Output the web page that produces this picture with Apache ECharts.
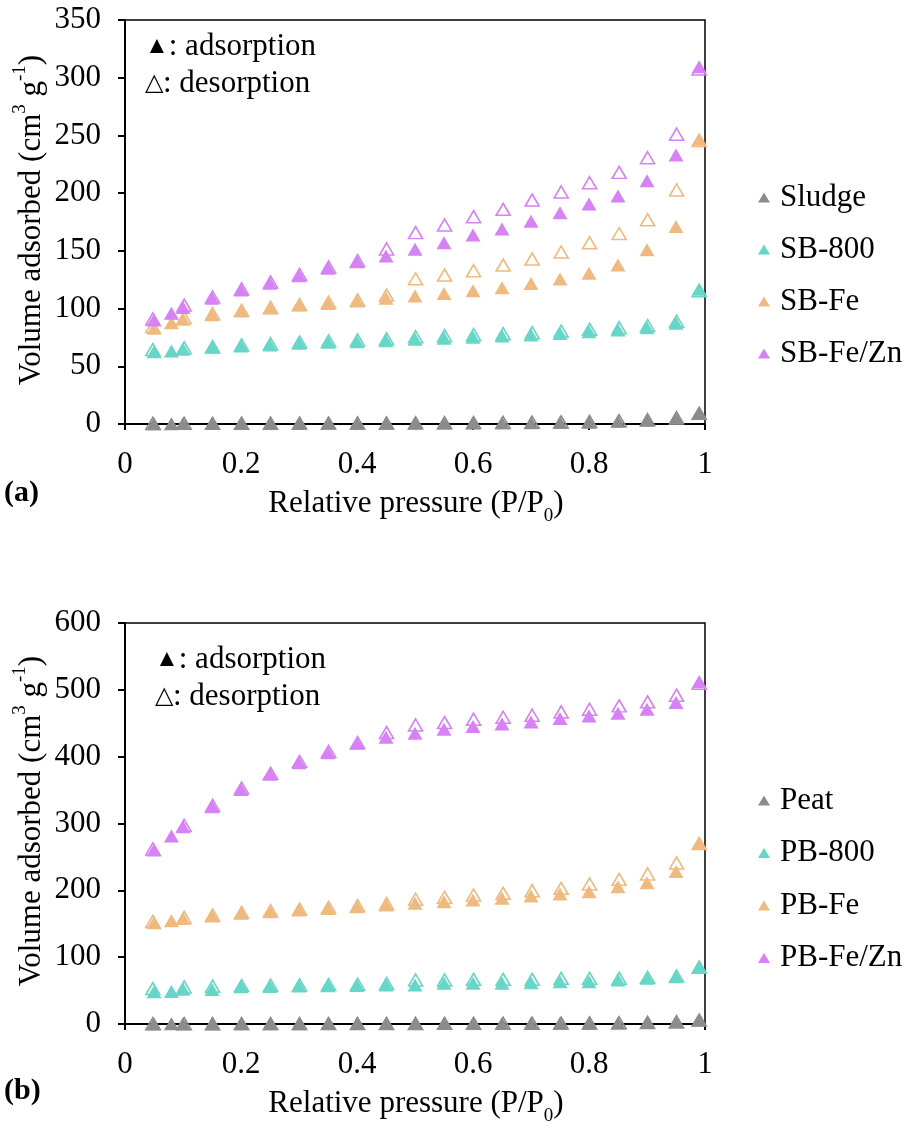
<!DOCTYPE html>
<html>
<head>
<meta charset="utf-8">
<title>N2 adsorption–desorption isotherms</title>
<script src="https://cdn.jsdelivr.net/npm/echarts@6/dist/echarts.min.js"></script>
<style>
  html, body { margin: 0; padding: 0; background: #fff; }
  #chart { width: 908px; height: 1129px; }
</style>
</head>
<body>
<div id="chart"></div>
<script>
// Relative pressure (P/P0) of the measured points
const pAds = [0.05, 0.08, 0.1, 0.15, 0.2, 0.25, 0.3, 0.35, 0.4, 0.45, 0.5, 0.55, 0.6, 0.65, 0.7, 0.75, 0.8, 0.85, 0.9, 0.95, 0.99];
const pDes = [0.048, 0.102, 0.151, 0.201, 0.251, 0.301, 0.351, 0.401, 0.451, 0.501, 0.551, 0.601, 0.652, 0.702, 0.752, 0.801, 0.852, 0.901, 0.951, 0.99];

// Panel (a): sludge-derived samples, volume adsorbed (cm3 g-1)
const namesA = ['Sludge', 'SB-800', 'SB-Fe', 'SB-Fe/Zn'];
const sludgeAds = [0.3, 0.3, 0.4, 0.4, 0.5, 0.5, 0.5, 0.6, 0.6, 0.7, 0.7, 0.8, 0.9, 1.0, 1.1, 1.3, 1.6, 2.3, 3.3, 5.0, 9.6];
const sludgeDes = [0.5, 0.6, 0.6, 0.7, 0.7, 0.8, 0.8, 0.9, 0.9, 1.0, 1.1, 1.2, 1.3, 1.5, 1.8, 2.2, 2.8, 3.7, 5.4, 9.2];
const sb800Ads = [62.7, 63.2, 64.7, 66.4, 67.6, 68.4, 69.9, 70.8, 71.3, 72.2, 73.4, 74.2, 75.1, 76.2, 77.1, 78.5, 80.0, 81.4, 83.4, 87.2, 116.7];
const sb800Des = [64.5, 66.0, 67.0, 68.5, 69.5, 71.0, 72.0, 72.8, 73.8, 75.6, 76.5, 77.4, 78.2, 79.1, 80.5, 82.0, 83.4, 85.3, 89.0, 115.5];
const sbFeAds = [83.0, 87.8, 90.7, 94.7, 98.0, 100.5, 103.0, 104.5, 106.5, 108.9, 110.9, 113.0, 115.5, 118.0, 121.8, 125.6, 130.5, 137.7, 151.0, 171.0, 246.6];
const sbFeDes = [84.5, 92.0, 95.5, 98.5, 101.0, 103.5, 105.5, 107.5, 111.7, 125.8, 129.0, 132.8, 137.7, 143.0, 149.0, 157.0, 165.0, 177.0, 202.7, 245.5];
const sbFeZnAds = [90.0, 96.0, 101.0, 109.0, 116.0, 122.0, 128.5, 135.0, 140.6, 145.5, 151.5, 157.0, 163.7, 169.0, 175.6, 183.0, 190.6, 197.5, 210.8, 233.0, 309.6];
const sbFeZnDes = [91.0, 103.0, 110.0, 117.0, 123.0, 129.5, 136.0, 141.5, 151.6, 165.8, 172.4, 179.6, 186.0, 194.0, 201.0, 209.0, 218.0, 230.7, 251.0, 307.5];

// Panel (b): peat-derived samples, volume adsorbed (cm3 g-1)
const namesB = ['Peat', 'PB-800', 'PB-Fe', 'PB-Fe/Zn'];
const peatAds = [0.2, 0.3, 0.3, 0.4, 0.4, 0.5, 0.5, 0.6, 0.6, 0.7, 0.7, 0.8, 0.8, 0.9, 1.0, 1.1, 1.3, 1.6, 2.1, 3.0, 6.0];
const peatDes = [0.4, 0.5, 0.5, 0.6, 0.6, 0.7, 0.7, 0.8, 0.8, 0.9, 1.0, 1.0, 1.1, 1.2, 1.4, 1.6, 1.9, 2.4, 3.4, 5.8];
const pb800Ads = [48.4, 48.5, 52.0, 51.6, 55.9, 56.2, 56.7, 57.2, 57.7, 58.2, 58.4, 60.9, 60.9, 60.9, 61.9, 63.4, 63.4, 65.8, 68.3, 70.8, 85.8];
const pb800Des = [53.0, 55.5, 56.5, 57.5, 58.0, 58.5, 59.0, 59.5, 60.5, 65.8, 65.8, 66.8, 66.8, 66.8, 68.3, 68.3, 68.3, 69.8, 71.8, 85.0];
const pbFeAds = [151.6, 154.6, 158.0, 161.6, 165.6, 168.0, 170.6, 173.0, 175.5, 178.0, 180.6, 183.0, 185.5, 188.0, 191.5, 194.5, 198.0, 205.5, 211.5, 228.0, 271.0];
const pbFeDes = [153.5, 159.5, 163.0, 167.0, 169.5, 172.0, 174.5, 177.0, 180.0, 186.6, 189.6, 193.0, 195.5, 199.5, 203.0, 209.5, 216.5, 224.5, 241.0, 270.0];
const pbFeZnAds = [260.4, 281.3, 295.0, 325.0, 351.0, 373.6, 391.0, 406.0, 420.0, 429.0, 435.0, 441.0, 445.0, 449.0, 452.0, 457.0, 461.0, 465.0, 471.0, 481.0, 512.0];
const pbFeZnDes = [262.0, 297.0, 327.0, 353.0, 375.0, 393.0, 408.0, 421.0, 436.0, 447.4, 451.0, 456.0, 459.0, 462.0, 467.0, 471.0, 476.0, 482.0, 492.0, 510.0];

// Axis ticks
const xTicks = { min: 0, max: 1, interval: 0.2 };
const yTicksA = { min: 0, max: 350, interval: 50 };
const yTicksB = { min: 0, max: 600, interval: 100 };

const colors = ['#8c8c8c', '#66d6c6', '#f0b97f', '#d681f6'];
const FONT = 'Liberation Serif';
const FS = 31;

const zip = (xs, ys) => ys.map((y, i) => [xs[i], y]);

function adsSeries(name, ys, color, idx) {
  return {
    type: 'scatter', name: name, xAxisIndex: idx, yAxisIndex: idx,
    data: zip(pAds, ys), symbol: 'triangle', symbolSize: [15, 13],
    itemStyle: { color: color, opacity: 1 }, z: 3, silent: true
  };
}
function desSeries(name, ys, color, idx) {
  return {
    type: 'scatter', name: name + ' (desorption)', xAxisIndex: idx, yAxisIndex: idx,
    data: zip(pDes, ys), symbol: 'triangle', symbolSize: [14, 12],
    itemStyle: { color: 'rgba(255,255,255,0)', borderColor: color, borderWidth: 1.6, opacity: 1 },
    z: 2, silent: true
  };
}

const adsA = [sludgeAds, sb800Ads, sbFeAds, sbFeZnAds];
const desA = [sludgeDes, sb800Des, sbFeDes, sbFeZnDes];
const adsB = [peatAds, pb800Ads, pbFeAds, pbFeZnAds];
const desB = [peatDes, pb800Des, pbFeDes, pbFeZnDes];

const series = [];
namesA.forEach((n, i) => series.push(desSeries(n, desA[i], colors[i], 0)));
namesB.forEach((n, i) => series.push(desSeries(n, desB[i], colors[i], 1)));
namesA.forEach((n, i) => series.push(adsSeries(n, adsA[i], colors[i], 0)));
namesB.forEach((n, i) => series.push(adsSeries(n, adsB[i], colors[i], 1)));

const labelStyle = { fontFamily: FONT, fontSize: FS, color: '#000' };

function xAxis(idx) {
  return {
    type: 'value', gridIndex: idx, min: xTicks.min, max: xTicks.max, interval: xTicks.interval,
    axisLine: { onZero: false, lineStyle: { color: '#000', width: 2 } },
    axisTick: { show: true, length: 6, lineStyle: { color: '#000', width: 2 } },
    axisLabel: Object.assign({ margin: 25 }, labelStyle),
    splitLine: { show: false }
  };
}
function yAxis(idx, t) {
  return {
    type: 'value', gridIndex: idx, min: t.min, max: t.max, interval: t.interval,
    axisLine: { show: true, lineStyle: { color: '#000', width: 2 } },
    axisTick: { show: true, length: 7, lineStyle: { color: '#000', width: 2 } },
    axisLabel: Object.assign({ margin: 24 }, labelStyle),
    splitLine: { show: false }
  };
}

function legend(names, top, gap) {
  return {
    data: names, orient: 'vertical', left: 758, top: top, padding: 0,
    icon: 'triangle', itemWidth: 12, itemHeight: 10, itemGap: gap,
    selectedMode: false,
    textStyle: { fontFamily: FONT, fontSize: FS, color: '#000', lineHeight: 30, padding: [0, 0, 0, 5] }
  };
}

const richY = {
  m: { fontFamily: FONT, fontSize: FS, fill: '#000', lineHeight: 38, verticalAlign: 'bottom' },
  sup: { fontFamily: FONT, fontSize: 19, fill: '#000', lineHeight: 38, verticalAlign: 'top', padding: [2, 0, 0, 0] }
};
const richX = {
  m: { fontFamily: FONT, fontSize: FS, fill: '#000', lineHeight: 38, verticalAlign: 'top' },
  sub: { fontFamily: FONT, fontSize: 19, fill: '#000', lineHeight: 38, verticalAlign: 'bottom' }
};
const richNote = {
  t: { fontFamily: FONT, fontSize: 24, fill: '#000', lineHeight: 36, verticalAlign: 'middle' },
  m: { fontFamily: FONT, fontSize: FS, fill: '#000', lineHeight: 36, verticalAlign: 'middle' }
};

function yTitle(cy) {
  return {
    type: 'text', x: 28, y: cy, rotation: Math.PI / 2, silent: true,
    style: {
      text: '{m|Volume adsorbed (cm}{sup|3}{m| g}{sup|-1}{m|)}',
      rich: richY, align: 'center', verticalAlign: 'middle', fill: '#000'
    }
  };
}
function xTitle(cy) {
  return {
    type: 'text', x: 416, y: cy, silent: true,
    style: {
      text: '{m|Relative pressure (P/P}{sub|0}{m|)}',
      rich: richX, align: 'center', verticalAlign: 'middle', fill: '#000'
    }
  };
}
function note(x, y, mark, word) {
  return {
    type: 'text', x: x, y: y, silent: true,
    style: { text: '{t|' + mark + '}{m|: ' + word + '}', rich: richNote, align: 'left', verticalAlign: 'middle', fill: '#000' }
  };
}
function panelTag(y, tag) {
  return {
    type: 'text', x: 4, y: y, silent: true,
    style: { text: tag, fontFamily: FONT, fontSize: 30, fontWeight: 'bold', fill: '#000', align: 'left', verticalAlign: 'middle' }
  };
}

const option = {
  animation: false,
  backgroundColor: '#fff',
  grid: [
    { left: 125, top: 20, width: 580, height: 404, show: true, borderColor: '#000', borderWidth: 1.5, backgroundColor: 'transparent' },
    { left: 125, top: 623, width: 580, height: 401, show: true, borderColor: '#000', borderWidth: 1.5, backgroundColor: 'transparent' }
  ],
  xAxis: [xAxis(0), xAxis(1)],
  yAxis: [yAxis(0, yTicksA), yAxis(1, yTicksB)],
  legend: [legend(namesA, 182, 21), legend(namesB, 785, 21.5)],
  series: series,
  graphic: [
    yTitle(220), yTitle(821),
    xTitle(507), xTitle(1107),
    note(145, 47, '▲', 'adsorption'), note(145, 84, '△', 'desorption'),
    note(155, 660, '▲', 'adsorption'), note(155, 697, '△', 'desorption'),
    panelTag(493, '(a)'), panelTag(1091, '(b)')
  ]
};

const chart = echarts.init(document.getElementById('chart'), null, { renderer: 'canvas' });
chart.setOption(option);
</script>
</body>
</html>
